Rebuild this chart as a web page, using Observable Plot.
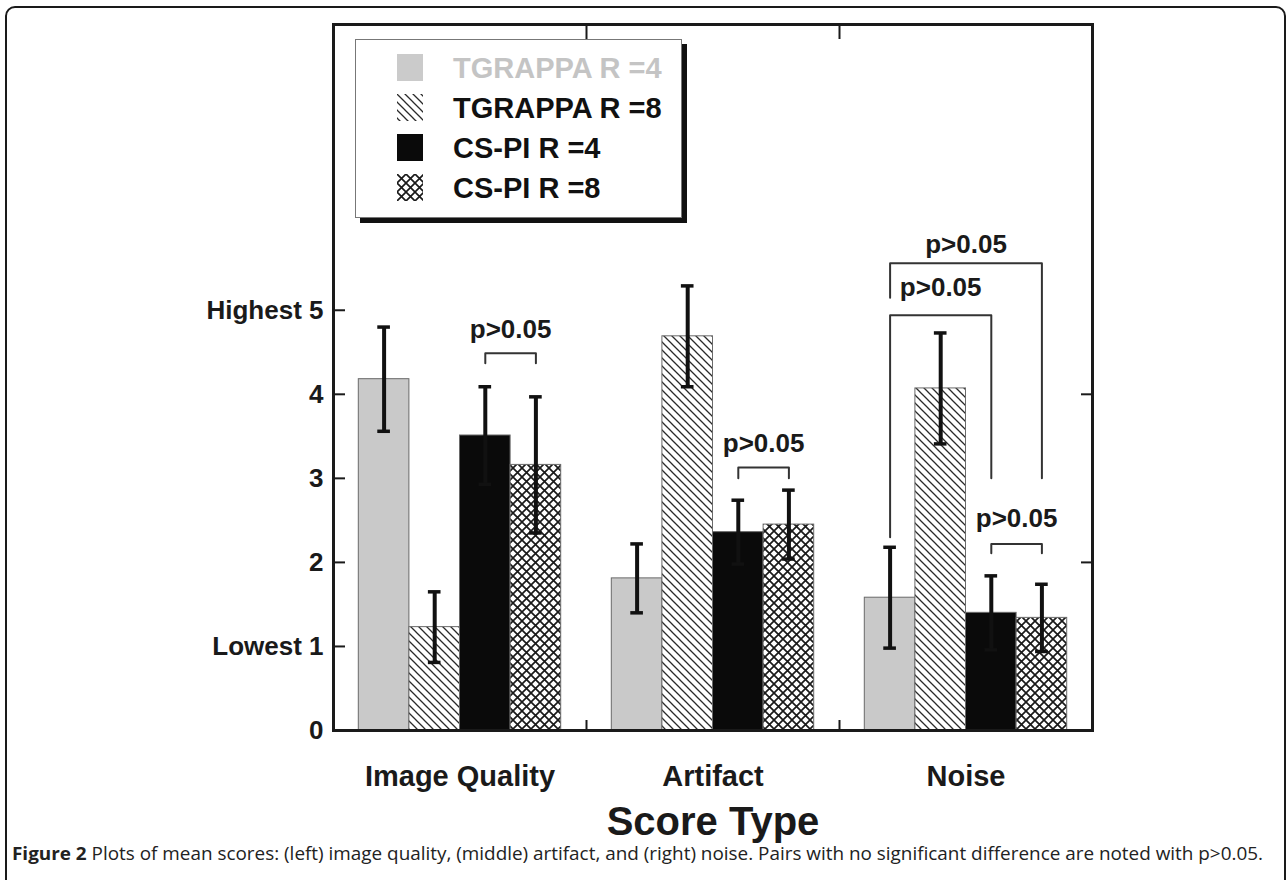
<!DOCTYPE html>
<html>
<head>
<meta charset="utf-8">
<script src="https://cdn.jsdelivr.net/npm/d3@7"></script>
<script src="https://cdn.jsdelivr.net/npm/@observablehq/plot@0.6"></script>
<style>
  body { margin: 0; background: #fff; width: 1287px; height: 880px; overflow: hidden; position: relative; font-family: "Liberation Sans", Arial, sans-serif; }
  #border { position: absolute; left: 5px; top: 6px; width: 1281px; height: 920px; border: 2px solid #1a1a1a; border-radius: 10px; box-sizing: border-box; }
  #chart { position: absolute; left: 0; top: 0; }
  #legend { position: absolute; left: 355px; top: 39px; width: 327px; height: 179px; box-sizing: border-box; border: 1.5px solid #777; background: #fff; box-shadow: 5px 5px 0 #111; }
  .lrow { position: absolute; left: 0; height: 30px; display: flex; align-items: center; }
  .lrow svg { position: absolute; left: 41px; }
  .lrow span { position: absolute; left: 97px; white-space: nowrap; font-weight: bold; font-size: 29px; line-height: 30px; }
  #caption { position: absolute; left: 12px; top: 844px; font-family: "Open Sans", sans-serif; font-size: 18px; line-height: 18px; white-space: nowrap; color: #222; transform-origin: left center; }
  #caption b { font-weight: bold; }
</style>
</head>
<body>
<div id="border"></div>
<div id="chart"></div>
<div id="legend"></div>
<div id="caption"><b>Figure 2</b> Plots of mean scores: (left) image quality, (middle) artifact, and (right) noise. Pairs with no significant difference are noted with p&gt;0.05.</div>
<script>
// ---------- data ----------
const categories = ["Image Quality", "Artifact", "Noise"];
const series = ["TGRAPPA R =4", "TGRAPPA R =8", "CS-PI R =4", "CS-PI R =8"];
const meanImageQuality = [4.18, 1.23, 3.51, 3.16];
const meanArtifact = [1.81, 4.69, 2.36, 2.45];
const meanNoise = [1.58, 4.07, 1.40, 1.34];
const errImageQuality = [0.62, 0.42, 0.58, 0.81];
const errArtifact = [0.41, 0.60, 0.38, 0.41];
const errNoise = [0.60, 0.66, 0.44, 0.40];
const yTickValues = [0, 1, 2, 3, 4, 5];
const yTickLabels = ["0", "Lowest 1", "2", "3", "4", "Highest 5"];
const rightTickValues = [2, 4];
const bracketCategory = ["Image Quality", "Artifact", "Noise", "Noise", "Noise"];
const bracketFrom = ["CS-PI R =4", "CS-PI R =4", "CS-PI R =4", "TGRAPPA R =4", "TGRAPPA R =4"];
const bracketTo = ["CS-PI R =8", "CS-PI R =8", "CS-PI R =8", "CS-PI R =4", "CS-PI R =8"];
const bracketTop = [4.49, 3.13, 2.22, 4.94, 5.56];
const bracketFromEnd = [4.37, 3.00, 2.11, 2.30, 5.15];
const bracketToEnd = [4.37, 3.00, 2.11, 3.00, 3.00];
const bracketLabelY = [4.77, 3.41, 2.52, 5.27, 5.78];
const bracketLabel = ["p>0.05", "p>0.05", "p>0.05", "p>0.05", "p>0.05"];
const xLabel = "Score Type";

// ---------- styles ----------
const seriesFill = ["#c9c9c9", "url(#hatch)", "#0a0a0a", "url(#cross)"];
const legendFill = ["#cbcbcb", "url(#hatch)", "#0a0a0a", "url(#cross)"];
const legendText = ["#c4c4c4", "#111", "#111", "#111"];
const GROUP_HALF = 0.4, BAR_W = 0.2, CAP_HALF = 0.025;

const means = [meanImageQuality, meanArtifact, meanNoise];
const errs = [errImageQuality, errArtifact, errNoise];
const rows = categories.flatMap((c, ci) => series.map((s, si) => ({
  category: c, series: s, ci, si, mean: means[ci][si], err: errs[ci][si]
})));
const left = (ci, si) => ci - GROUP_HALF + si * BAR_W;
const center = (ci, si) => left(ci, si) + BAR_W / 2;

const brackets = bracketCategory.map((c, i) => {
  const ci = categories.indexOf(c);
  const a = center(ci, series.indexOf(bracketFrom[i]));
  const b = center(ci, series.indexOf(bracketTo[i]));
  return {id: i, a, b, top: bracketTop[i], ea: bracketFromEnd[i], eb: bracketToEnd[i], ly: bracketLabelY[i], label: bracketLabel[i]};
});
const bracketPts = brackets.flatMap(b => [
  {id: b.id, x: b.a, y: b.ea}, {id: b.id, x: b.a, y: b.top},
  {id: b.id, x: b.b, y: b.top}, {id: b.id, x: b.b, y: b.eb}
]);

function defsMark() {
  const defs = d3.create("svg:defs");
  const h = defs.append("pattern").attr("id", "hatch").attr("patternUnits", "userSpaceOnUse")
    .attr("width", 8).attr("height", 8);
  h.append("rect").attr("width", 8).attr("height", 8).attr("fill", "#fff");
  h.append("path").attr("d", "M-2,-2 L10,10 M-2,6 L2,10 M6,-2 L10,2")
    .attr("stroke", "#2a2a2a").attr("stroke-width", 1.3);
  const c = defs.append("pattern").attr("id", "cross").attr("patternUnits", "userSpaceOnUse")
    .attr("width", 9).attr("height", 9);
  c.append("rect").attr("width", 9).attr("height", 9).attr("fill", "#fff");
  c.append("path").attr("d", "M0,0 L9,9 M9,0 L0,9")
    .attr("stroke", "#1a1a1a").attr("stroke-width", 1.7);
  return defs.node();
}

const chart = Plot.plot({
  width: 1287,
  height: 845,
  marginLeft: 333,
  marginRight: 195,
  marginTop: 24,
  marginBottom: 115,
  style: {fontFamily: '"Liberation Sans", Arial, sans-serif', fontWeight: "bold", color: "#1a1a1a", background: "transparent", overflow: "visible"},
  x: {domain: [-0.5, 2.5], axis: null},
  y: {domain: [0, 8.4], axis: null},
  color: {domain: series, range: seriesFill},
  marks: [
    defsMark,
    Plot.rectY(rows, {x1: d => left(d.ci, d.si), x2: d => left(d.ci, d.si) + BAR_W, y1: 0, y2: "mean",
      fill: "series", stroke: "#6a6a6a", strokeWidth: 1}),
    Plot.line(bracketPts, {x: "x", y: "y", z: "id", stroke: "#333", strokeWidth: 2}),
    Plot.text(brackets, {x: d => (d.a + d.b) / 2, y: "ly", text: "label", fontSize: 26, fontWeight: "bold",
      fill: "#1a1a1a", style: "letter-spacing:1.5px"}),
    Plot.ruleX(rows, {x: d => center(d.ci, d.si), y1: d => d.mean - d.err, y2: d => d.mean + d.err,
      stroke: "#111", strokeWidth: 4}),
    Plot.ruleY(rows, {y: d => d.mean + d.err, x1: d => center(d.ci, d.si) - CAP_HALF, x2: d => center(d.ci, d.si) + CAP_HALF,
      stroke: "#111", strokeWidth: 3.5}),
    Plot.ruleY(rows, {y: d => d.mean - d.err, x1: d => center(d.ci, d.si) - CAP_HALF, x2: d => center(d.ci, d.si) + CAP_HALF,
      stroke: "#111", strokeWidth: 3.5}),
    Plot.frame({stroke: "#1a1a1a", strokeWidth: 3}),
    Plot.axisY({anchor: "left", ticks: yTickValues, tickSize: -12, tickPadding: 22, strokeWidth: 2,
      tickFormat: d => yTickLabels[yTickValues.indexOf(d)], fontSize: 26, label: null}),
    Plot.axisY({anchor: "right", ticks: rightTickValues, tickSize: -12, strokeWidth: 2,
      tickFormat: () => "", label: null}),
    Plot.axisX({anchor: "bottom", ticks: [0.5, 1.5], tickSize: -10, strokeWidth: 2, tickFormat: () => "", label: null}),
    Plot.axisX({anchor: "top", ticks: [0.5, 1.5], tickSize: -14, strokeWidth: 2, tickFormat: () => "", label: null}),
    Plot.axisX({anchor: "bottom", ticks: [0, 1, 2], tickSize: 0, tickPadding: 35,
      tickFormat: i => categories[i], fontSize: 29, label: null}),
    Plot.text([xLabel], {frameAnchor: "bottom", dy: 104, text: d => d, fontSize: 40, fontWeight: "bold", fill: "#1a1a1a"})
  ]
});
document.getElementById("chart").appendChild(chart);

// legend
const legend = document.getElementById("legend");
series.forEach((s, i) => {
  const row = document.createElement("div");
  row.className = "lrow";
  row.style.top = (13 + 40 * i) + "px";
  row.innerHTML = `<svg width="26" height="27" style="top:1px"><rect width="26" height="27" fill="${legendFill[i]}"/></svg>` +
    `<span style="color:${legendText[i]}">${s}</span>`;
  legend.appendChild(row);
});

// caption fit
const cap = document.getElementById("caption");
const w = cap.getBoundingClientRect().width;
cap.style.transform = `scaleX(${1251 / w})`;
</script>
</body>
</html>
